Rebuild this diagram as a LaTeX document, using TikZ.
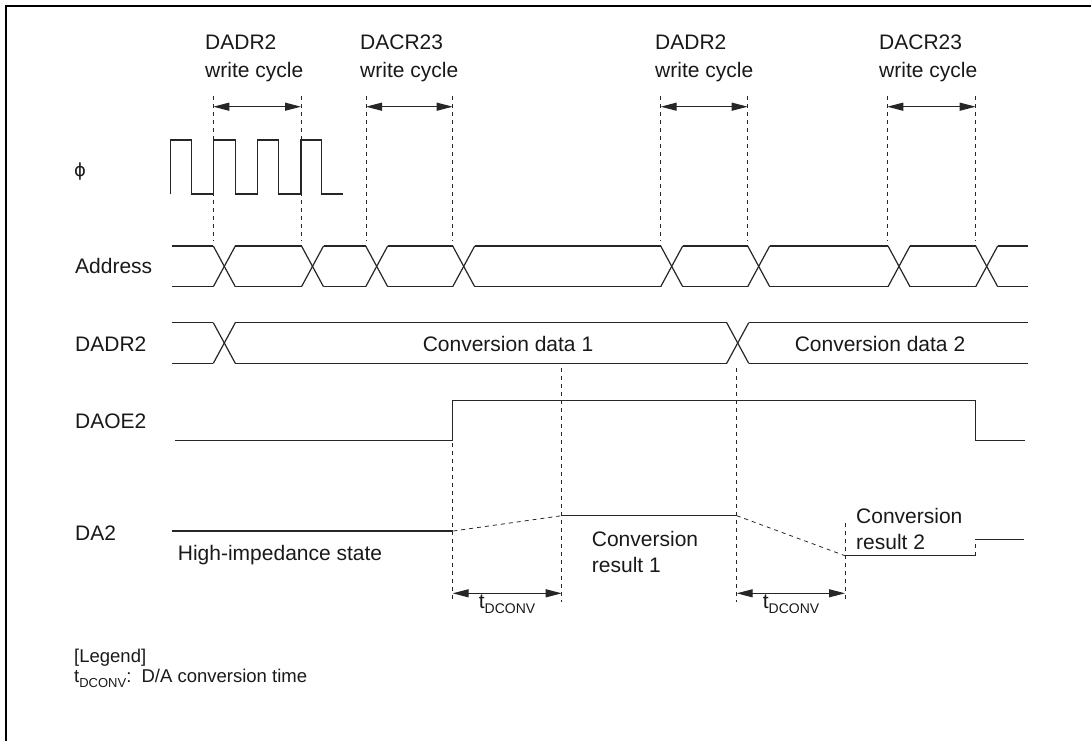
\documentclass[tikz,border=0pt]{standalone}
\usepackage{fontspec}
\setmainfont{Liberation Sans}
\newfontfamily\symfont{DejaVu Sans}
\usetikzlibrary{arrows.meta}
\newcommand{\tdconv}{t\raisebox{-5pt}{\fontsize{14}{14}\selectfont DCONV}}
\newcommand{\tdconvs}{t\raisebox{-4.5pt}{\fontsize{13}{13}\selectfont DCONV}}
\begin{document}
\begin{tikzpicture}[x=1pt,y=-1pt,
  sig/.style={line width=1.2pt,draw=black!85,line join=miter},
  guide/.style={line width=0.8pt,draw=black!85,dash pattern=on 4pt off 4pt},
  dimarrow/.style={line width=1.1pt,draw=black!85,{Triangle[length=16pt,width=8pt]}-{Triangle[length=16pt,width=8pt]}},
  txt/.style={anchor=base west,inner sep=0pt,font=\fontsize{21}{25}\selectfont,text=black!90},
  txtc/.style={anchor=base,inner sep=0pt,font=\fontsize{21}{25}\selectfont,text=black!90},
  legtxt/.style={anchor=base west,inner sep=0pt,font=\fontsize{18.5}{22}\selectfont,text=black!90},
  framel/.style={line width=2.2pt,draw=black}]
\useasboundingbox (0,0) rectangle (1091,741);
% frame (top and left only)
\coordinate (fl) at (5.7,741);
\coordinate (fc) at (5.7,6.2);
\coordinate (fr) at (1091,6.2);
\draw[framel] (fl) -- (fc) -- (fr);

% ---------- row labels
\node[txt,font=\symfont\fontsize{18}{22}\selectfont] (lphi) at (74,176) {ϕ};
\node[txt] (laddr) at (75,273.5) {Address};
\node[txt] (ldadr) at (75,351) {DADR2};
\node[txt] (ldaoe) at (75,428) {DAOE2};
\node[txt] (lda) at (75,540) {DA2};

% ---------- top labels
\node[txt] (t1a) at (205,50) {DADR2};
\node[txt] (t1b) at (205,77.3) {write cycle};
\node[txt] (t2a) at (360,50) {DACR23};
\node[txt] (t2b) at (360,77.3) {write cycle};
\node[txt] (t3a) at (655,50) {DADR2};
\node[txt] (t3b) at (655,77.3) {write cycle};
\node[txt] (t4a) at (879,50) {DACR23};
\node[txt] (t4b) at (879,77.3) {write cycle};

% ---------- guide lines (top)
\foreach \g/\n in {213.3/1,301/2,366/3,452.7/4,660.7/5,747.7/6,887.3/7,975.7/8}{
  \coordinate (gt\n) at (\g,96);
  \coordinate (gb\n) at (\g,241);
  \draw[guide] (gt\n) -- (gb\n);
}
% write-cycle arrows
\coordinate (w1a) at (213.3,106.7); \coordinate (w1b) at (301,106.7);
\coordinate (w2a) at (366,106.7);   \coordinate (w2b) at (452.7,106.7);
\coordinate (w3a) at (660.7,106.7); \coordinate (w3b) at (747.7,106.7);
\coordinate (w4a) at (887.3,106.7); \coordinate (w4b) at (975.7,106.7);
\draw[dimarrow] (w1a) -- (w1b);
\draw[dimarrow] (w2a) -- (w2b);
\draw[dimarrow] (w3a) -- (w3b);
\draw[dimarrow] (w4a) -- (w4b);

% ---------- clock
\draw[sig] (170.7,194) -- (170.7,140) -- (191.7,140) -- (191.7,194) -- (213.3,194)
  -- (213.3,140) -- (235.7,140) -- (235.7,194) -- (257.3,194) -- (257.3,140)
  -- (278.3,140) -- (278.3,194) -- (301,194) -- (301,140) -- (321.7,140)
  -- (321.7,194) -- (343.3,194);

% ---------- Address bus
\foreach \a/\b in {171.7/213.3,235.3/301.5,323.5/365.7,387.7/452.7,474.7/660.7,682.7/747.7,769.7/888,910/975.7,997.7/1027.7}{
  \draw[sig] (\a,246) -- (\b,246);
  \draw[sig] (\a,286.7) -- (\b,286.7);
}
\foreach \s in {213.3,301.5,365.7,452.7,660.7,747.7,888,975.7}{
  \draw[sig] (\s,246) -- (\s+22,286.7);
  \draw[sig] (\s,286.7) -- (\s+22,246);
}

% ---------- DADR2 bus
\foreach \a/\b in {171.7/213.3,235.3/726.7,748.7/1027.7}{
  \draw[sig] (\a,322.7) -- (\b,322.7);
  \draw[sig] (\a,363.3) -- (\b,363.3);
}
\foreach \s in {213.3,726.7}{
  \draw[sig] (\s,322.7) -- (\s+22,363.3);
  \draw[sig] (\s,363.3) -- (\s+22,322.7);
}
\node[txtc] (cd1) at (508,351) {Conversion data 1};
\node[txtc] (cd2) at (880,351) {Conversion data 2};

% ---------- DAOE2
\draw[sig] (175,440.7) -- (452.7,440.7) -- (452.7,400.3) -- (975.7,400.3)
  -- (975.7,440.7) -- (1025,440.7);

% ---------- lower guides
\coordinate (d1t) at (452.7,443); \coordinate (d1b) at (452.7,602);
\coordinate (d2t) at (561.7,368); \coordinate (d2b) at (561.7,602);
\coordinate (d3t) at (736.7,368); \coordinate (d3b) at (736.7,602);
\coordinate (d4t) at (845,523);   \coordinate (d4b) at (845,602);
\draw[guide] (d1t) -- (d1b);
\draw[guide] (d2t) -- (d2b);
\draw[guide] (d3t) -- (d3b);
\draw[guide] (d4t) -- (d4b);

% ---------- DA2
\coordinate (p0) at (171.7,531);
\coordinate (p1) at (453.3,531);
\coordinate (p2) at (561.7,515.7);
\coordinate (p3) at (736.7,515.7);
\coordinate (p4) at (845,555.7);
\coordinate (p5) at (975.7,555.7);
\coordinate (p6) at (975.7,539.3);
\coordinate (p7) at (1024,539.3);
\draw[sig] (p0) -- (p1);
\draw[guide] (p1) -- (p2);
\draw[sig] (p2) -- (p3);
\draw[guide] (p3) -- (p4);
\draw[sig] (p4) -- (p5);
\draw[guide] (p5) -- (p6);
\draw[sig] (p6) -- (p7);

\node[txt] (hi) at (177.7,560) {High-impedance state};
\node[txt] (cr1a) at (591.7,546.7) {Conversion};
\node[txt] (cr1b) at (591.7,572.7) {result 1};
\node[txt] (cr2a) at (856,523.3) {Conversion};
\node[txt] (cr2b) at (856,549.3) {result 2};

% ---------- tDCONV arrows
\coordinate (c1a) at (452.7,593.3); \coordinate (c1b) at (561.7,593.3);
\coordinate (c2a) at (736.7,593.3); \coordinate (c2b) at (845,593.3);
\draw[dimarrow] (c1a) -- (c1b);
\draw[dimarrow] (c2a) -- (c2b);
\node[txtc] (tc1) at (507,608) {\tdconv};
\node[txtc] (tc2) at (791,608) {\tdconv};

% ---------- legend
\node[legtxt] (leg) at (74,662) {[Legend]};
\node[legtxt] (legt) at (74,682.5) {\tdconvs:\hspace{0.55em}D/A conversion time};
\end{tikzpicture}
\end{document}
